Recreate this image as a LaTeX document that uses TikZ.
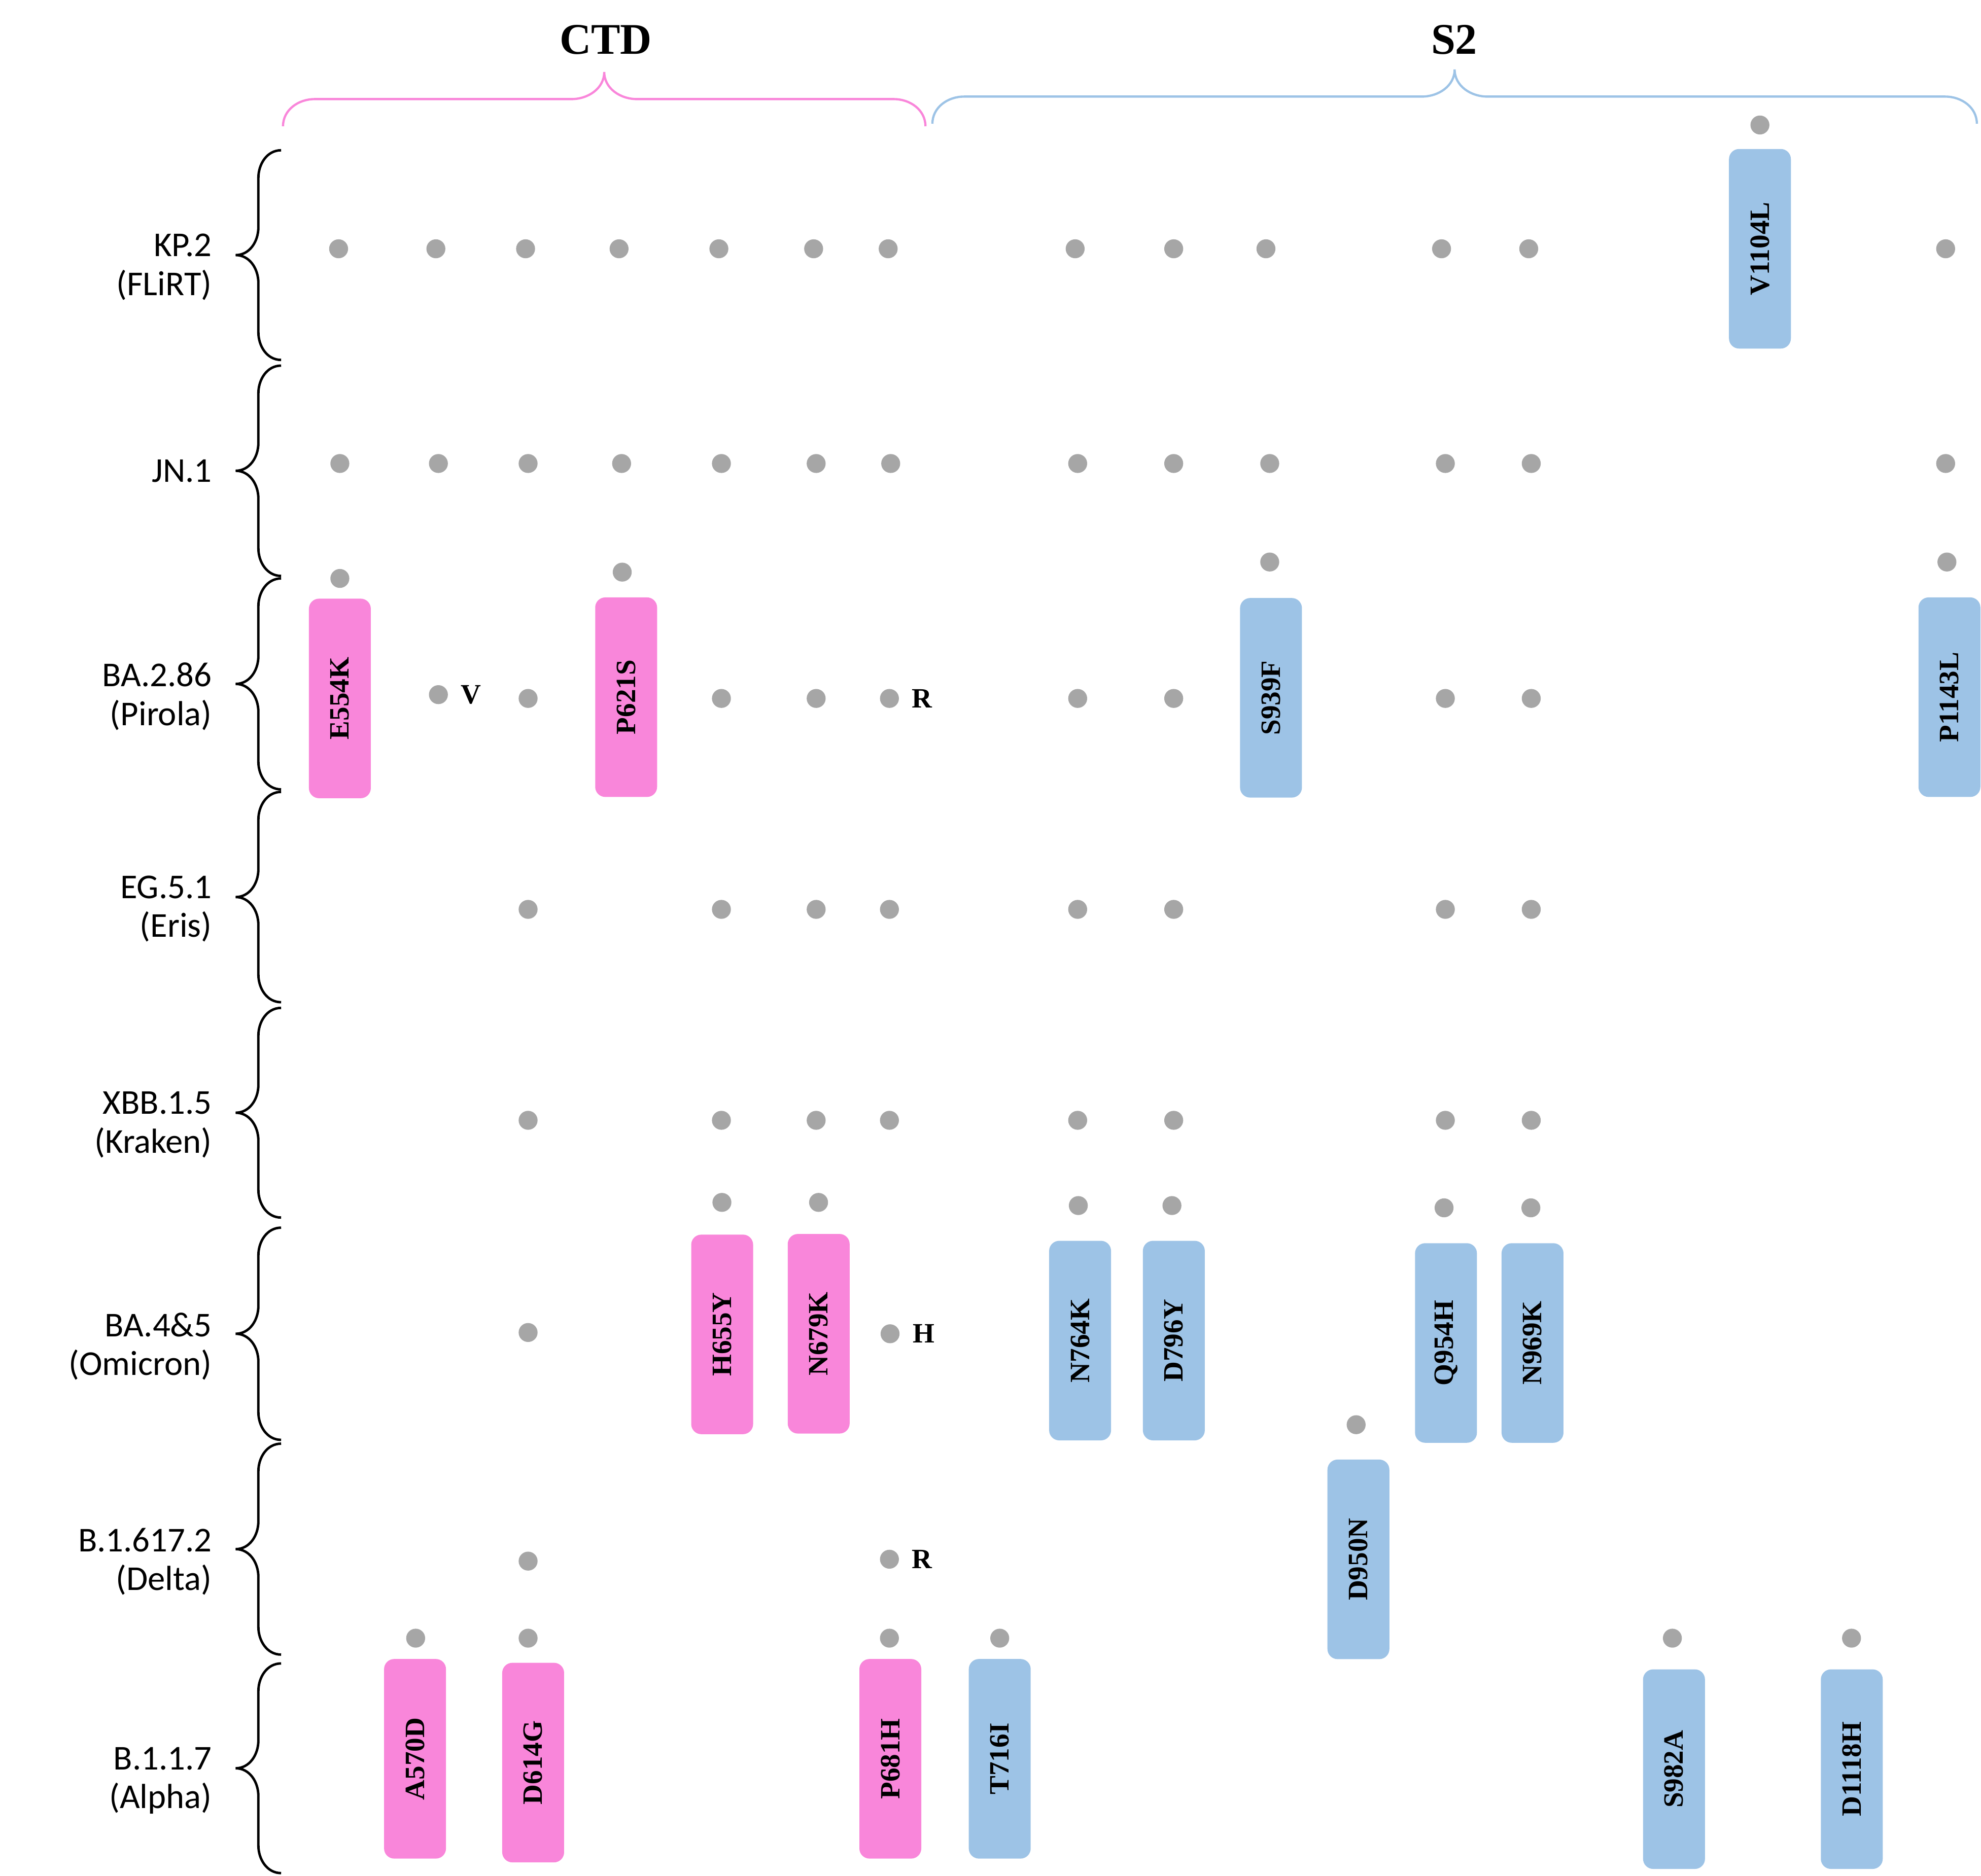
\documentclass[tikz,border=0pt]{standalone}
\usepackage{fontspec}
\setmainfont{Liberation Serif}
\newfontfamily\carlito{Carlito}
\usetikzlibrary{positioning}

\definecolor{ctdpink}{RGB}{249,134,218}
\definecolor{stwoblue}{RGB}{157,195,230}
\definecolor{dotgray}{RGB}{166,166,166}

\newcommand{\mutfont}{\fontsize{6.3}{7.5}\selectfont\bfseries}

% brace on the left of a variant row: x of the ends, top, bottom
\newcommand{\sidebrace}[3]{%
  \pgfmathsetmacro{\bmid}{(#2+#3)/2}%
  \draw[rowbrace] (#1,#2) to[out=180,in=90] (#1-0.18,#2-0.22)
    -- (#1-0.18,\bmid+0.22) to[out=-90,in=0] (#1-0.36,\bmid)
    to[out=0,in=90] (#1-0.18,\bmid-0.22) -- (#1-0.18,#3+0.22)
    to[out=-90,in=180] (#1,#3);%
}
% brace over a domain: colour, left end, right end, height of the ends
\newcommand{\domainbrace}[4]{%
  \pgfmathsetmacro{\bmid}{(#2+#3)/2}%
  \draw[domainline,#1] (#2,#4) to[out=90,in=180] (#2+0.25,#4+0.215)
    -- (\bmid-0.26,#4+0.215) to[out=0,in=-90] (\bmid,#4+0.43)
    to[out=-90,in=180] (\bmid+0.26,#4+0.215) -- (#3-0.25,#4+0.215)
    to[out=0,in=90] (#3,#4);%
}

\tikzset{
  dot/.style={circle,fill=dotgray,inner sep=0pt,minimum size=0.15cm},
  mut/.style={rounded corners=0.08cm,rotate=90,minimum width=1.58cm,minimum height=0.49cm,inner sep=0pt,font=\mutfont},
  ctdbox/.style={mut,fill=ctdpink},
  stwobox/.style={mut,fill=stwoblue},
  aa/.style={inner sep=0pt,font=\mutfont},
  variant/.style={align=right,inner sep=0pt,font=\carlito\fontsize{7.85}{8.75}\selectfont},
  title/.style={inner sep=0pt,font=\fontsize{9.85}{11}\selectfont\bfseries},
  rowbrace/.style={line width=0.55pt,black},
  domainline/.style={line width=0.5pt}
}

\begin{document}
\begin{tikzpicture}
  \useasboundingbox (0,0) rectangle (15.68,14.85);

  % domains on top
  \node[title] (ctd) at (4.795,14.535) {CTD};
  \node[title] (s2) at (11.51,14.535) {S2};
  \domainbrace{ctdpink}{2.24}{7.325}{13.85}
  \domainbrace{stwoblue}{7.38}{15.647}{13.87}

  % variant names and their braces
  \node[variant,anchor=north east] (flirt) at (1.684,13.004) {KP.2\\(FLiRT)};
  \node[variant,anchor=base east] (jn) at (1.684,11.033) {JN.1};
  \node[variant,anchor=north east] (pirola) at (1.684,9.609) {BA.2.86\\(Pirola)};
  \node[variant,anchor=north east] (eris) at (1.684,7.924) {EG.5.1\\(Eris)};
  \node[variant,anchor=north east] (kraken) at (1.684,6.214) {XBB.1.5\\(Kraken)};
  \node[variant,anchor=north east] (omicron) at (1.684,4.464) {BA.4\&5\\(Omicron)};
  \node[variant,anchor=north east] (delta) at (1.684,2.759) {B.1.617.2\\(Delta)};
  \node[variant,anchor=north east] (alpha) at (1.684,1.024) {B.1.1.7\\(Alpha)};
  \sidebrace{2.225}{13.66}{12.00}
  \sidebrace{2.225}{11.955}{10.29}
  \sidebrace{2.225}{10.27}{8.60}
  \sidebrace{2.225}{8.58}{6.915}
  \sidebrace{2.225}{6.87}{5.21}
  \sidebrace{2.225}{5.13}{3.45}
  \sidebrace{2.225}{3.42}{1.75}
  \sidebrace{2.225}{1.68}{0.02}

  % KP.2
  \node[dot] (kp-1) at (2.68,12.88) {};
  \node[dot] (kp-2) at (3.45,12.88) {};
  \node[dot] (kp-3) at (4.16,12.88) {};
  \node[dot] (kp-4) at (4.90,12.88) {};
  \node[dot] (kp-5) at (5.69,12.88) {};
  \node[dot] (kp-6) at (6.44,12.88) {};
  \node[dot] (kp-7) at (7.03,12.88) {};
  \node[dot] (kp-8) at (8.51,12.88) {};
  \node[dot] (kp-9) at (9.29,12.88) {};
  \node[dot] (kp-10) at (10.02,12.88) {};
  \node[dot] (kp-11) at (11.41,12.88) {};
  \node[dot] (kp-12) at (12.10,12.88) {};
  \node[dot] (kp-13) at (15.40,12.88) {};
  \node[dot] (kp-top) at (13.93,13.86) {};   % dot above V1104L
  \node[stwobox] (V1104L) at (13.93,12.88) {V1104L};

  % JN.1
  \node[dot] (jn-1) at (2.69,11.18) {};
  \node[dot] (jn-2) at (3.47,11.18) {};
  \node[dot] (jn-3) at (4.18,11.18) {};
  \node[dot] (jn-4) at (4.92,11.18) {};
  \node[dot] (jn-5) at (5.71,11.18) {};
  \node[dot] (jn-6) at (6.46,11.18) {};
  \node[dot] (jn-7) at (7.05,11.18) {};
  \node[dot] (jn-8) at (8.53,11.18) {};
  \node[dot] (jn-9) at (9.29,11.18) {};
  \node[dot] (jn-10) at (10.05,11.18) {};
  \node[dot] (jn-11) at (11.44,11.18) {};
  \node[dot] (jn-12) at (12.12,11.18) {};
  \node[dot] (jn-13) at (15.40,11.18) {};

  % BA.2.86
  \node[dot] (pi-a) at (2.69,10.27) {};   % dots above the boxes
  \node[dot] (pi-b) at (4.925,10.32) {};
  \node[dot] (pi-c) at (10.05,10.40) {};
  \node[dot] (pi-d) at (15.41,10.40) {};
  \node[ctdbox] (E554K) at (2.69,9.32) {E554K};
  \node[ctdbox] (P621S) at (4.956,9.33) {P621S};
  \node[stwobox] (S939F) at (10.06,9.325) {S939F};
  \node[stwobox] (P1143L) at (15.43,9.33) {P1143L};
  \node[dot] (pi-1) at (3.47,9.35) {};
  \node[aa,right=0.09cm of pi-1] (pi-v) {V};
  \node[dot] (pi-2) at (4.18,9.32) {};
  \node[dot] (pi-3) at (5.71,9.32) {};
  \node[dot] (pi-4) at (6.46,9.32) {};
  \node[dot] (pi-5) at (7.04,9.32) {};
  \node[aa,right=0.09cm of pi-5] (pi-r) {R};
  \node[dot] (pi-6) at (8.53,9.32) {};
  \node[dot] (pi-7) at (9.29,9.32) {};
  \node[dot] (pi-8) at (11.44,9.32) {};
  \node[dot] (pi-9) at (12.12,9.32) {};

  % EG.5.1
  \node[dot] (er-1) at (4.18,7.65) {};
  \node[dot] (er-2) at (5.71,7.65) {};
  \node[dot] (er-3) at (6.46,7.65) {};
  \node[dot] (er-4) at (7.04,7.65) {};
  \node[dot] (er-5) at (8.53,7.65) {};
  \node[dot] (er-6) at (9.29,7.65) {};
  \node[dot] (er-7) at (11.44,7.65) {};
  \node[dot] (er-8) at (12.12,7.65) {};

  % XBB.1.5
  \node[dot] (kr-1) at (4.18,5.98) {};
  \node[dot] (kr-2) at (5.71,5.98) {};
  \node[dot] (kr-3) at (6.46,5.98) {};
  \node[dot] (kr-4) at (7.04,5.98) {};
  \node[dot] (kr-5) at (8.53,5.98) {};
  \node[dot] (kr-6) at (9.29,5.98) {};
  \node[dot] (kr-7) at (11.44,5.98) {};
  \node[dot] (kr-8) at (12.12,5.98) {};

  % BA.4&5
  \node[dot] (om-a) at (5.714,5.33) {};   % dots above the boxes
  \node[dot] (om-b) at (6.479,5.33) {};
  \node[dot] (om-c) at (8.535,5.305) {};
  \node[dot] (om-d) at (9.276,5.305) {};
  \node[dot] (om-e) at (11.43,5.287) {};
  \node[dot] (om-f) at (12.117,5.287) {};
  \node[dot] (om-1) at (4.18,4.30) {};
  \node[ctdbox] (H655Y) at (5.716,4.285) {H655Y};
  \node[ctdbox] (N679K) at (6.48,4.29) {N679K};
  \node[dot] (om-2) at (7.045,4.29) {};
  \node[aa,right=0.09cm of om-2] (om-h) {H};
  \node[stwobox] (N764K) at (8.549,4.236) {N764K};
  \node[stwobox] (D796Y) at (9.291,4.236) {D796Y};
  \node[stwobox] (Q954H) at (11.445,4.217) {Q954H};
  \node[stwobox] (N969K) at (12.13,4.217) {N969K};

  % B.1.617.2
  \node[dot] (de-a) at (10.734,3.57) {};   % dot above D950N
  \node[dot] (de-1) at (4.18,2.49) {};
  \node[dot] (de-2) at (7.04,2.505) {};
  \node[aa,right=0.09cm of de-2] (de-r) {R};
  \node[stwobox] (D950N) at (10.752,2.504) {D950N};

  % B.1.1.7
  \node[dot] (al-a) at (3.29,1.88) {};
  \node[dot] (al-b) at (4.18,1.88) {};
  \node[dot] (al-c) at (7.04,1.88) {};
  \node[dot] (al-d) at (7.913,1.88) {};
  \node[dot] (al-e) at (13.237,1.88) {};
  \node[dot] (al-f) at (14.655,1.88) {};
  \node[ctdbox] (A570D) at (3.285,0.925) {A570D};
  \node[ctdbox] (D614G) at (4.22,0.895) {D614G};
  \node[ctdbox] (P681H) at (7.047,0.925) {P681H};
  \node[stwobox] (T716I) at (7.913,0.925) {T716I};
  \node[stwobox] (S982A) at (13.25,0.843) {S982A};
  \node[stwobox] (D1118H) at (14.657,0.843) {D1118H};
\end{tikzpicture}
\end{document}
